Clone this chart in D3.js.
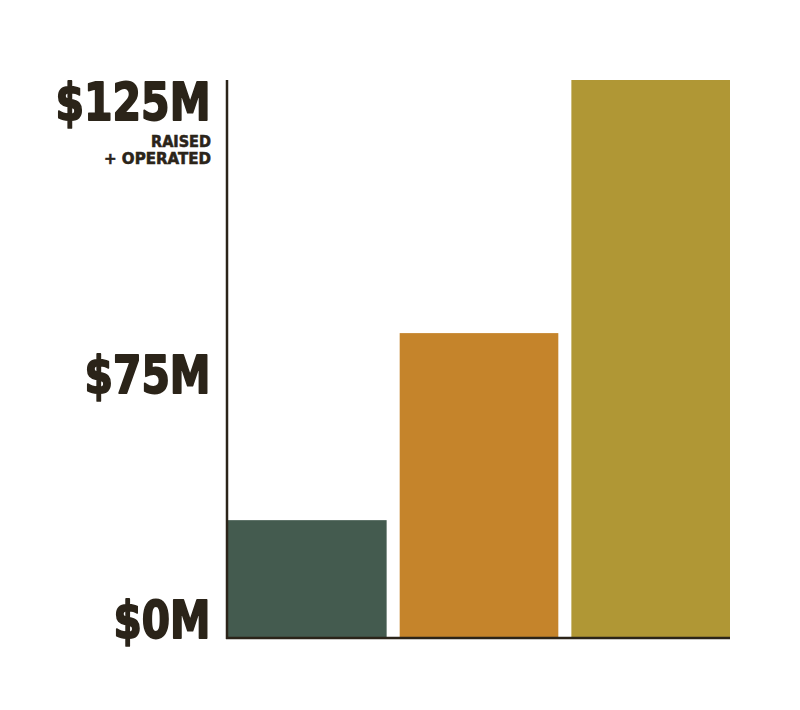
<!DOCTYPE html>
<html><head><meta charset="utf-8">
<script src="https://cdn.jsdelivr.net/npm/d3@7"></script>
<style>html,body{margin:0;padding:0;background:#fff;}</style>
</head><body>
<svg id="chart" width="800" height="710"></svg>
<script>
const categories = ["A", "B", "C"];
const values = [26.4, 68.3, 125];
const colors = ["#445b4f", "#c5842b", "#b09735"];
const tickValues = [0, 75, 125];
const tickLabels = ["$0M", "$75M", "$125M"];
const subLabel = ["RAISED", "+ OPERATED"];

const svg = d3.select("#chart");
const ink = "#2b2419";
const font = "'Liberation Sans Narrow','DejaVu Sans Condensed',sans-serif";

const x = d3.scaleBand().domain(categories).range([228, 730]).paddingInner(0.076).paddingOuter(0);
const y = d3.scaleLinear().domain([0, 125]).range([638, 80]);
// label baselines (labels are placed as annotations, not strictly at values)
const yLabel = d3.scaleLinear().domain([0, 75, 125]).range([638, 393, 120]);

svg.selectAll("rect.bar").data(values).enter().append("rect")
  .attr("class", "bar")
  .attr("x", (d, i) => x(categories[i]))
  .attr("width", x.bandwidth())
  .attr("y", d => y(d))
  .attr("height", d => y(0) - y(d))
  .attr("fill", (d, i) => colors[i]);

// axes lines
svg.append("line").attr("x1", 227).attr("x2", 227).attr("y1", y(125)).attr("y2", y(0) + 1)
  .attr("stroke", ink).attr("stroke-width", 2.5);
svg.append("line").attr("x1", 226).attr("x2", 730).attr("y1", y(0)).attr("y2", y(0))
  .attr("stroke", ink).attr("stroke-width", 2.5);

const widths = {"$0M": 97, "$75M": 126, "$125M": 155};
svg.selectAll("text.tick").data(tickValues).enter().append("text")
  .attr("class", "tick")
  .attr("x", 210.5)
  .attr("y", d => yLabel(d))
  .attr("text-anchor", "end")
  .attr("font-family", font)
  .attr("font-weight", "bold")
  .attr("font-size", 52)
  .attr("fill", ink)
  .attr("stroke", ink)
  .attr("stroke-width", 1.8)
  .attr("stroke-linejoin", "round")
  .attr("textLength", (d, i) => widths[tickLabels[i]])
  .attr("lengthAdjust", "spacingAndGlyphs")
  .text((d, i) => tickLabels[i]);

const subWidths = [60, 107];
svg.selectAll("text.sub").data(subLabel).enter().append("text")
  .attr("class", "sub")
  .attr("x", 211)
  .attr("y", (d, i) => yLabel(125) + 27 + i * 17)
  .attr("text-anchor", "end")
  .attr("font-family", font)
  .attr("font-weight", "bold")
  .attr("font-size", 15)
  .attr("fill", ink)
  .attr("stroke", ink)
  .attr("stroke-width", 0.5)
  .attr("textLength", (d, i) => subWidths[i])
  .attr("lengthAdjust", "spacingAndGlyphs")
  .text(d => d);
</script>
</body></html>
